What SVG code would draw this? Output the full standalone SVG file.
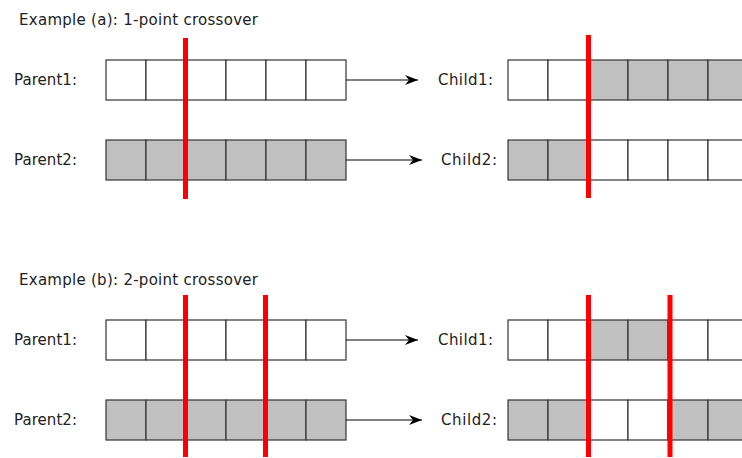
<svg xmlns="http://www.w3.org/2000/svg" width="742" height="458" viewBox="0 0 742 458">
<style>
text{font-family:"DejaVu Sans","Liberation Sans",sans-serif;font-size:15px;fill:#222}
.t{font-size:15px}
.c{stroke:#333;stroke-width:1.2}
.w{fill:#fff}
.g{fill:#c0c0c0}
.cut{stroke:#f00;stroke-width:5}
.conn{stroke:#000;stroke-width:1.2;fill:none}
</style>
<defs>
<marker id="ah" markerWidth="14" markerHeight="12" refX="13" refY="6" orient="auto" markerUnits="userSpaceOnUse">
<path d="M0,1 L13,6 L0,11 L4,6 Z" fill="#000"/>
</marker>
</defs>
<rect width="742" height="458" fill="#fff"/>
<text class="t" x="19" y="25" textLength="239">Example (a): 1-point crossover</text>
<text class="t" x="19" y="285" textLength="239">Example (b): 2-point crossover</text>

<g id="a-parent1">
<text x="14" y="85" textLength="63">Parent1:</text>
<g class="c w"><rect x="106" y="60" width="40" height="40"/><rect x="146" y="60" width="40" height="40"/><rect x="186" y="60" width="40" height="40"/><rect x="226" y="60" width="40" height="40"/><rect x="266" y="60" width="40" height="40"/><rect x="306" y="60" width="40" height="40"/></g>
</g>
<g id="a-parent2">
<text x="14" y="165" textLength="63">Parent2:</text>
<g class="c g"><rect x="106" y="140" width="40" height="40"/><rect x="146" y="140" width="40" height="40"/><rect x="186" y="140" width="40" height="40"/><rect x="226" y="140" width="40" height="40"/><rect x="266" y="140" width="40" height="40"/><rect x="306" y="140" width="40" height="40"/></g>
</g>
<g id="a-child1">
<text x="438" y="85" textLength="55">Child1:</text>
<g class="c"><rect class="w" x="508" y="60" width="40" height="40"/><rect class="w" x="548" y="60" width="40" height="40"/><rect class="g" x="588" y="60" width="40" height="40"/><rect class="g" x="628" y="60" width="40" height="40"/><rect class="g" x="668" y="60" width="40" height="40"/><rect class="g" x="708" y="60" width="40" height="40"/></g>
</g>
<g id="a-child2">
<text x="441" y="165" textLength="56">Child2:</text>
<g class="c"><rect class="g" x="508" y="140" width="40" height="40"/><rect class="g" x="548" y="140" width="40" height="40"/><rect class="w" x="588" y="140" width="40" height="40"/><rect class="w" x="628" y="140" width="40" height="40"/><rect class="w" x="668" y="140" width="40" height="40"/><rect class="w" x="708" y="140" width="40" height="40"/></g>
</g>

<g id="b-parent1">
<text x="14" y="345" textLength="63">Parent1:</text>
<g class="c w"><rect x="106" y="320" width="40" height="40"/><rect x="146" y="320" width="40" height="40"/><rect x="186" y="320" width="40" height="40"/><rect x="226" y="320" width="40" height="40"/><rect x="266" y="320" width="40" height="40"/><rect x="306" y="320" width="40" height="40"/></g>
</g>
<g id="b-parent2">
<text x="14" y="425" textLength="63">Parent2:</text>
<g class="c g"><rect x="106" y="400" width="40" height="40"/><rect x="146" y="400" width="40" height="40"/><rect x="186" y="400" width="40" height="40"/><rect x="226" y="400" width="40" height="40"/><rect x="266" y="400" width="40" height="40"/><rect x="306" y="400" width="40" height="40"/></g>
</g>
<g id="b-child1">
<text x="438" y="345" textLength="55">Child1:</text>
<g class="c"><rect class="w" x="508" y="320" width="40" height="40"/><rect class="w" x="548" y="320" width="40" height="40"/><rect class="g" x="588" y="320" width="40" height="40"/><rect class="g" x="628" y="320" width="40" height="40"/><rect class="w" x="668" y="320" width="40" height="40"/><rect class="w" x="708" y="320" width="40" height="40"/></g>
</g>
<g id="b-child2">
<text x="441" y="425" textLength="56">Child2:</text>
<g class="c"><rect class="g" x="508" y="400" width="40" height="40"/><rect class="g" x="548" y="400" width="40" height="40"/><rect class="w" x="588" y="400" width="40" height="40"/><rect class="w" x="628" y="400" width="40" height="40"/><rect class="g" x="668" y="400" width="40" height="40"/><rect class="g" x="708" y="400" width="40" height="40"/></g>
</g>

<g id="cuts" class="cut">
<line x1="185.5" y1="38" x2="185.5" y2="199"/>
<line x1="588.5" y1="35" x2="588.5" y2="198"/>
<line x1="185.5" y1="295" x2="185.5" y2="457"/>
<line x1="265.5" y1="295" x2="265.5" y2="457"/>
<line x1="588.5" y1="295" x2="588.5" y2="457"/>
<line x1="670" y1="295" x2="670" y2="457"/>
</g>

<g id="connectors" class="conn">
<line x1="346" y1="80" x2="418" y2="80" marker-end="url(#ah)"/>
<line x1="346" y1="160" x2="422" y2="160" marker-end="url(#ah)"/>
<line x1="346" y1="340" x2="418" y2="340" marker-end="url(#ah)"/>
<line x1="346" y1="420" x2="422" y2="420" marker-end="url(#ah)"/>
</g>
</svg>
